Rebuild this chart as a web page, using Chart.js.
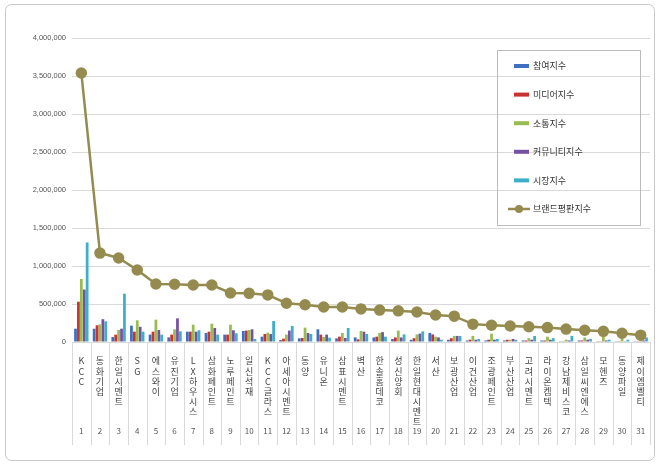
<!DOCTYPE html>
<html><head><meta charset="utf-8">
<script src="https://cdn.jsdelivr.net/npm/chart.js@4"></script>
<style>html,body{margin:0;padding:0;background:#fff}#w{width:660px;height:468px}</style>
</head><body><div id="w"><canvas id="c"></canvas></div>
<script>
const categories=["KCC","동화기업","한일시멘트","SG","에스와이","유진기업","LX하우시스","삼화페인트","노루페인트","일신석재","KCC글라스","아세아시멘트","동양","유니온","삼표시멘트","벽산","한솔홈데코","성신양회","한일현대시멘트","서산","보광산업","이건산업","조광페인트","부산산업","고려시멘트","라이온켐텍","강남제비스코","삼일씨엔에스","모헨즈","동양파일","제이엠벨티"];
const ranks=categories.map((_,i)=>String(i+1));
const participation=[175000,175000,66000,215000,97000,61000,136000,118000,97000,145000,70000,26000,48000,167000,48000,61000,60000,40000,30000,120000,30000,20000,20000,20000,20000,20000,10000,20000,10000,10000,10000];
const media=[530000,220000,97000,136000,136000,97000,136000,136000,97000,150000,105000,44000,53000,97000,70000,35000,70000,60000,50000,100000,50000,30000,30000,30000,20000,20000,10000,20000,10000,10000,10000];
const communication=[830000,232000,158000,285000,294000,167000,228000,241000,228000,158000,123000,97000,189000,66000,118000,145000,120000,150000,100000,70000,80000,80000,110000,30000,50000,70000,30000,60000,90000,50000,20000];
const community=[690000,300000,175000,200000,158000,311000,136000,184000,154000,167000,105000,150000,118000,97000,53000,136000,130000,60000,110000,60000,80000,30000,30000,40000,30000,30000,20000,30000,20000,10000,20000];
const market=[1310000,272000,636000,136000,97000,140000,154000,97000,114000,40000,276000,211000,105000,57000,184000,105000,70000,100000,140000,30000,80000,40000,40000,30000,80000,50000,80000,40000,30000,30000,60000];
const brand=[3540000,1170000,1105000,947000,763000,760000,750000,750000,645000,640000,620000,510000,490000,460000,460000,435000,420000,410000,395000,355000,340000,235000,220000,210000,200000,190000,170000,155000,140000,115000,90000];
const yTicks=[0,500000,1000000,1500000,2000000,2500000,3000000,3500000,4000000];
const seriesNames=["참여지수","미디어지수","소통지수","커뮤니티지수","시장지수","브랜드평판지수"];
const colors=["#3f6fc0","#c8332f","#98bb52","#7551a2","#3eaecb","#958b4f"];
const bar=(i,d)=>({type:'bar',label:seriesNames[i],data:d,backgroundColor:colors[i],order:2,categoryPercentage:0.78,barPercentage:0.95});
const extras={id:'extras',
 beforeDraw(ch){const c=ch.ctx;c.save();c.fillStyle='#fff';c.fillRect(0,0,ch.width,ch.height);
  c.strokeStyle='#c8c8c8';c.lineWidth=1;c.beginPath();c.roundRect(5.5,4.5,649,456,6);c.stroke();c.restore();},
 afterDraw(ch){const c=ch.ctx,x=ch.scales.x,a=ch.chartArea;c.save();
  c.strokeStyle='#d9d9d9';c.lineWidth=1;
  const n=categories.length;
  for(let i=0;i<=n;i++){const px=Math.round(a.left+(a.right-a.left)*i/n)+0.5;c.beginPath();c.moveTo(px,a.bottom);c.lineTo(px,445);c.stroke();}
  c.fillStyle='#555';c.font='8px "Noto Sans CJK KR"';c.textAlign='center';c.textBaseline='middle';
  ranks.forEach((r,i)=>c.fillText(r,x.getPixelForValue(i),431));
  c.strokeStyle='#bbb';c.strokeRect(497.5,50.5,143,175);
  c.font='9px "Noto Sans CJK KR"';c.textAlign='left';c.fillStyle='#333';
  seriesNames.forEach((s,i)=>{const y=66+i*28.6;
   if(i<5){c.fillStyle=colors[i];c.fillRect(514,y-2,15,4);}
   else{c.strokeStyle=colors[5];c.lineWidth=2.5;c.beginPath();c.moveTo(508,y);c.lineTo(530,y);c.stroke();c.fillStyle=colors[5];c.beginPath();c.arc(519,y,4,0,7);c.fill();}
   c.fillStyle='#333';c.fillText(s,533,y);});
  c.restore();}};
new Chart(document.getElementById('c'),{
 data:{labels:categories.map(s=>Array.from(s)),datasets:[bar(0,participation),bar(1,media),bar(2,communication),bar(3,community),bar(4,market),
  {type:'line',label:seriesNames[5],data:brand,borderColor:colors[5],backgroundColor:colors[5],borderWidth:2.5,pointRadius:4.5,pointHoverRadius:4.5,order:1,tension:0}]},
 options:{responsive:true,maintainAspectRatio:false,animation:false,
  layout:{padding:{left:17,right:10,top:38,bottom:26}},
  plugins:{legend:{display:false},tooltip:{enabled:false}},
  scales:{
   x:{grid:{display:false},border:{color:'#d9d9d9'},ticks:{autoSkip:false,maxRotation:0,minRotation:0,color:'#444',font:{size:9,family:'"Noto Sans CJK KR"',lineHeight:1.12},padding:6},afterFit(s){s.height=100;}},
   y:{min:0,max:4000000,afterBuildTicks(s){s.ticks=yTicks.map(v=>({value:v}));},border:{display:false},grid:{color:'#d9d9d9',drawTicks:false},
      ticks:{color:'#555',font:{size:7.5,family:'"Liberation Sans"'},padding:6,callback:v=>v.toLocaleString('en-US')},afterFit(s){s.width=55;}}
  }},
 plugins:[extras]});
</script></body></html>
